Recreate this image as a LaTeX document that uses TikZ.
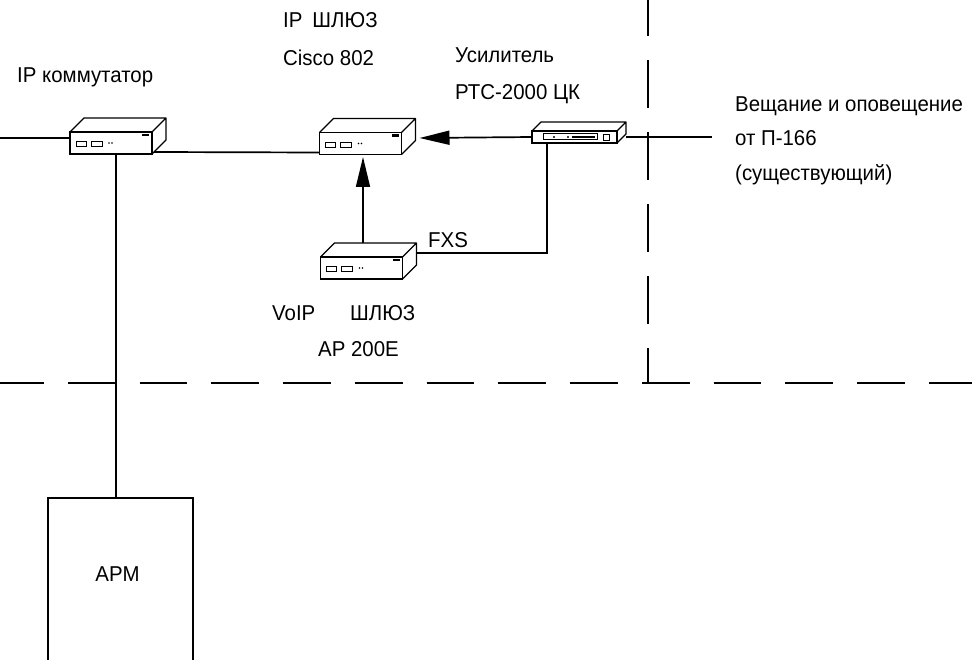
\documentclass[tikz,border=0pt]{standalone}
\usepackage{fontspec}
\setmainfont[FakeStretch=0.95]{Liberation Sans}
\usetikzlibrary{arrows.meta,calc}
\newcommand\boxthreed[2]{%
  \draw[line width=1.4pt, line join=round] (#1.north west) -- ++(#2,-#2) -- ($(#1.north east)+(#2,-#2)$) -- ($(#1.south east)+(#2,-#2)$) -- (#1.south east) (#1.north east) -- ++(#2,-#2);}
\newcommand\devports[1]{%
  \draw[line width=1pt] ([shift={(6,10)}]#1.north west) rectangle ++(10,5);
  \draw[line width=1pt] ([shift={(21,10)}]#1.north west) rectangle ++(11,5);
  \fill ([shift={(39,11)}]#1.north west) circle (0.9);
  \fill ([shift={(42,11)}]#1.north west) circle (0.9);
  \fill ([shift={(-10,2)}]#1.north east) rectangle ++(7,2.5);}
\begin{document}
\begin{tikzpicture}[x=1pt,y=-1pt,
  ln/.style={line width=1.7pt},
  dev/.style={draw, line width=1.4pt, rectangle, minimum width=82pt, minimum height=22pt, inner sep=0pt, outer sep=0pt},
  lbl/.style={anchor=base west, inner sep=0pt, font=\fontsize{21.5}{24}\selectfont},
  dsh/.style={line width=1.3pt, dash pattern=on 48pt off 24pt},
  arr/.style={-{Triangle[length=30pt,width=14pt]}}]
\useasboundingbox (0,0) rectangle (972,660);
% dashed borders
\coordinate (vtop) at (648,-12);
\coordinate (vbot) at (648,383);
\draw[dsh] (vtop) -- (vbot);
\coordinate (hl) at (-4,383);
\coordinate (hr) at (985,383);
\draw[dsh, dash pattern=on 47.75pt off 24pt] (hl) -- (hr);
% devices
\node[dev] (sw) at (111,143) {};
\boxthreed{sw}{14}\devports{sw}
\node[dev] (gw) at (360.5,143.5) {};
\boxthreed{gw}{14}\devports{gw}
\node[dev] (voip) at (361.5,268) {};
\boxthreed{voip}{14}\devports{voip}
\node[dev, minimum width=85pt, minimum height=12pt] (amp) at (574.5,137) {};
\boxthreed{amp}{9}
\draw[line width=1pt] ([shift={(11,3)}]amp.north west) rectangle ++(54,6);
\fill ([shift={(22,6)}]amp.north west) circle (1.1);
\fill ([shift={(36,6)}]amp.north west) circle (1.1);
\fill ([shift={(40,5)}]amp.north west) rectangle ++(23,2.5);
\draw[line width=1pt] ([shift={(71,4)}]amp.north west) rectangle ++(6,6);
% APM
\node[draw, line width=1.5pt, minimum width=145pt, minimum height=180pt, inner sep=0pt] (apm) at (120.5,588) {};
\node[lbl, anchor=base] (apmt) at (117.5,581) {АРМ};
% connectors
\coordinate (lend) at (0,138);
\draw[ln] (lend) -- (sw.west |- lend);
\draw[ln] ($(sw.south east)+(2,-2)$) -- ($(gw.south west)+(0,-2)$);
\draw[ln] ($(sw.south)+(5,0)$) coordinate (swd) -- (swd |- apm.north);
\draw[ln, arr] (amp.west) -- ($(gw.east)+(18,-5.5)$);
\coordinate (rend) at (712,137);
\draw[ln] ($(amp.east)+(9,0)$) -- (rend);
\draw[ln] ($(amp.south west)+(15,0)$) |- ($(voip.east)+(14.5,-15)$);
\draw[ln, arr] ($(voip.north)+(1.5,-14)$) -- ($(gw.south)+(2.5,2.5)$);
% labels
\node[lbl] (t1) at (283,28) {IP\hspace{10pt}ШЛЮЗ};
\node[lbl] (t2) at (283,66) {Cisco 802};
\node[lbl] (t3) at (17,83) {IP коммутатор};
\node[lbl] (t4) at (455,63) {Усилитель};
\node[lbl] (t5) at (455,100) {РТС-2000 ЦК};
\node[lbl] (t6) at (735,112) {Вещание и оповещение};
\node[lbl] (t7) at (735,146) {от П-166};
\node[lbl] (t8) at (735,181) {(существующий)};
\node[lbl] (t9) at (272,321) {VoIP};
\node[lbl] (t10) at (350,321) {ШЛЮЗ};
\node[lbl] (t11) at (318,356) {AP 200E};
\node[lbl] (t12) at (428,248) {FXS};
\end{tikzpicture}
\end{document}
